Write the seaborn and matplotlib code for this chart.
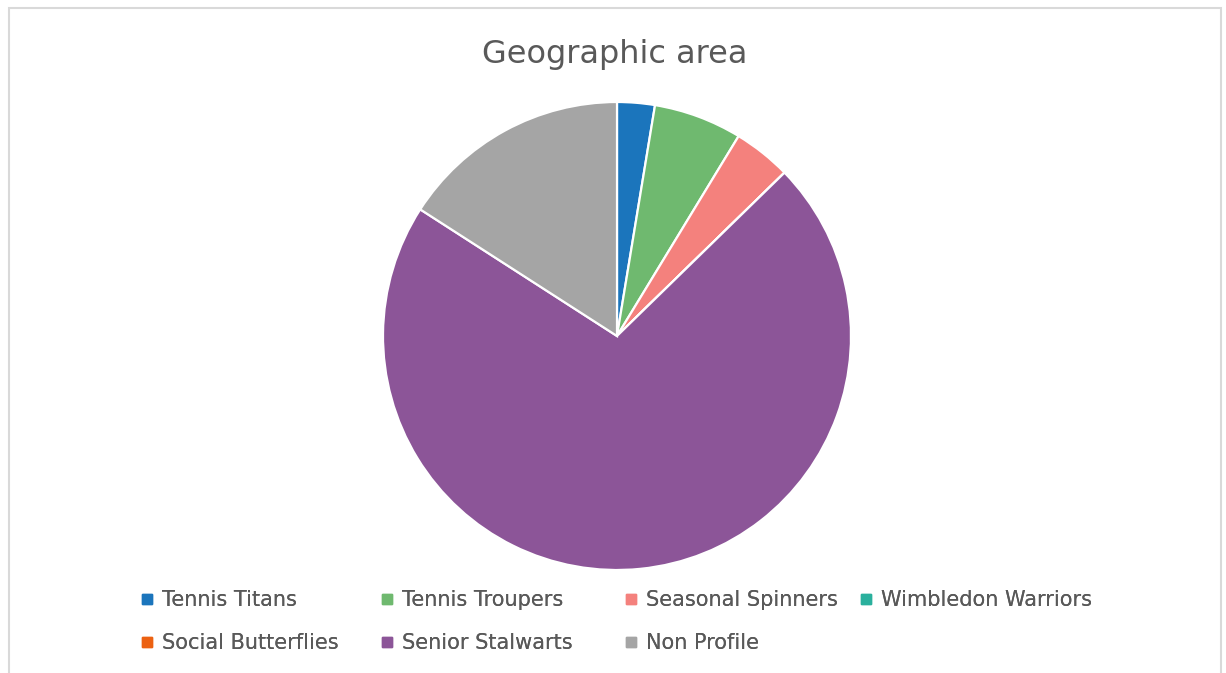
import matplotlib
matplotlib.use("Agg")
import matplotlib.pyplot as plt
from matplotlib.patches import Rectangle
from matplotlib.lines import Line2D
import seaborn as sns

# Member segments and their share of the geographic area (%)
segments = ["Tennis Titans", "Tennis Troupers", "Seasonal Spinners",
            "Wimbledon Warriors", "Social Butterflies", "Senior Stalwarts",
            "Non Profile"]
shares = [2.6, 6.1, 4.0, 0.0, 0.0, 71.4, 15.9]
segment_colors = ["#1b75bc", "#6fb96f", "#f4817d", "#2ab09d",
                  "#ec6112", "#8c5598", "#a5a5a5"]
title = "Geographic area"

sns.set_theme(style="white")
plt.rcParams["font.family"] = ["DejaVu Sans"]
palette = sns.color_palette(segment_colors)

W, H = 1226, 673
fig = plt.figure(figsize=(W / 100, H / 100), dpi=100)
fig.patch.set_facecolor("white")

# light frame around the chart area (open at the bottom)
fig.add_artist(Rectangle((8.5 / W, -0.05), (1221 - 8.5) / W, 1.05 - 8.5 / H,
                         transform=fig.transFigure, fill=False,
                         edgecolor="#d9d9d9", linewidth=1.5))

cx, cy, r = 617, 336, 234
ax = fig.add_axes([(cx - r) / W, (H - cy - r) / H, 2 * r / W, 2 * r / H])
ax.pie(shares, colors=palette, startangle=90, counterclock=False,
       radius=1.0, wedgeprops=dict(edgecolor="white", linewidth=1.6))
ax.set_xlim(-1, 1)
ax.set_ylim(-1, 1)
ax.set_aspect("equal")
ax.axis("off")

fig.text(615 / W, 1 - 54 / H, title, ha="center", va="center",
         fontsize=23, color="#595959")

# legend laid out in four columns, two rows
col_x = [140, 380, 624, 859]
row_y = [600, 643]
for i, (name, col) in enumerate(zip(segments, palette)):
    row, c = divmod(i, 4)
    h = [Line2D([], [], marker="s", linestyle="none", markersize=7.5,
                markerfacecolor=col, markeredgecolor=col)]
    leg = fig.legend(h, [name], loc="center left",
                     bbox_to_anchor=(col_x[c] / W, 1 - row_y[row] / H),
                     frameon=False, fontsize=15, handlelength=0.65,
                     handletextpad=0.4, borderpad=0, borderaxespad=0)
    for t in leg.get_texts():
        t.set_color("#595959")
    fig.add_artist(leg)

fig.savefig("out.png", dpi=100, facecolor="white")
